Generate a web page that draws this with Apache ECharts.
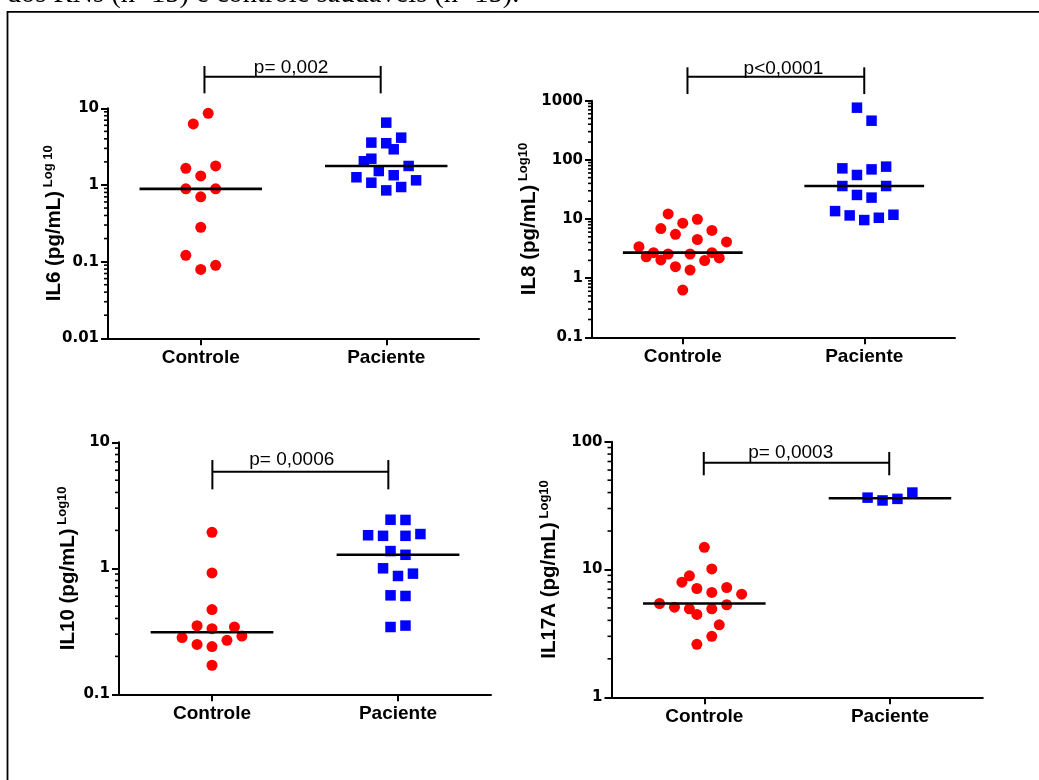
<!DOCTYPE html>
<html><head><meta charset="utf-8">
<script src="https://cdn.jsdelivr.net/npm/echarts@6/dist/echarts.min.js"></script>
<style>html,body{margin:0;padding:0;background:#fff}#c{width:1039px;height:780px}</style>
</head><body><div id="c"></div>
<script>
// ---------------- DATA ----------------
const groups = ['Controle', 'Paciente'];
const captionText = 'dos RNs (n=15) e controle saudáveis (n=15).';

// IL6
const il6Ticks = [0.01, 0.1, 1, 10];
const il6Controle = [8.6, 6.25, 1.65, 1.77, 1.31, 0.89, 0.89, 0.70, 0.28, 0.121, 0.079, 0.0896];
const il6ControleSlot = [1, -1, -2, 2, 0, -2, 2, 0, 0, -2, 0, 2];
const il6Paciente = [6.5, 4.14, 3.57, 3.5, 2.92, 2.2, 2.04, 1.77, 1.52, 1.26, 1.34, 1.15, 1.07, 0.94, 0.85];
const il6PacienteSlot = [0, 2, -2, 0, 1, -2, -3, 3, -1, -4, 1, 4, -2, 2, 0];
const il6P = 'p= 0,002';
const il6Bracket = [0.52, 1.47, 25.8];

// IL8
const il8Ticks = [0.1, 1, 10, 100, 1000];
const il8Controle = [12.2, 9.9, 8.5, 6.9, 6.4, 5.5, 4.5, 4.1, 3.4, 2.7, 2.56, 2.56, 2.7, 2.3, 2.2, 2.03, 1.98, 1.56, 1.37, 0.63];
const il8ControleSlot = [-2, 2, 0, -3, 4, -1, 2, 6, -6, -4, -2, 1, 4, -5, 5, -3, 3, -1, 1, 0];
const il8Paciente = [762, 459, 76.8, 71.8, 69, 55.5, 36.1, 36.1, 25.5, 23, 13.6, 11.5, 11.8, 10.5, 9.6];
const il8PacienteSlot = [-1, 1, 3, -3, 1, -1, -3, 3, -1, 1, -4, -2, 4, 2, 0];
const il8P = 'p<0,0001';
const il8Bracket = [0.526, 1.5, 2541];

// IL10
const il10Ticks = [0.1, 1, 10];
const il10Controle = [1.93, 0.918, 0.47, 0.35, 0.342, 0.332, 0.282, 0.29, 0.268, 0.249, 0.239, 0.17];
const il10ControleSlot = [0, 0, 0, -2, 3, 0, -4, 4, 2, -2, 0, 0];
const il10Paciente = [2.43, 2.42, 1.83, 1.81, 1.81, 1.87, 1.37, 1.28, 1.0, 0.907, 0.869, 0.61, 0.603, 0.342, 0.351];
const il10PacienteSlot = [-1, 1, -4, -2, 1, 3, -1, 1, -2, 2, 0, -1, 1, -1, 1];
const il10P = 'p= 0,0006';
const il10Bracket = [0.502, 1.448, 5.84];

// IL17A
const il17Ticks = [1, 10, 100];
const il17Controle = [14.9, 10.1, 8.92, 7.96, 7.1, 7.23, 6.61, 6.41, 5.42, 5.3, 5.07, 4.92, 4.92, 4.45, 3.69, 3.0, 2.6];
const il17ControleSlot = [0, 1, -2, -3, -1, 3, 1, 5, -6, 3, -4, -2, 1, -1, 2, 1, -1];
const il17Paciente = [36.5, 34.7, 35.7, 40];
const il17PacienteSlot = [-3, -1, 1, 3];
const il17P = 'p= 0,0003';
const il17Bracket = [0.497, 1.496, 68.5];

// ---------------- LAYOUT ----------------
const panels = [
  {title: 'IL6 (pg/mL)', sup: ' Log 10', ticks: il6Ticks, ctrl: il6Controle, ctrlSlot: il6ControleSlot, pac: il6Paciente, pacSlot: il6PacienteSlot, p: il6P, br: il6Bracket,
   grid: {left: 108, top: 108.3, width: 371, height: 230}, nameGap: 42, lblDx: -1.5, lblDy: 2.7, up: 10.7, down: 16.6},
  {title: 'IL8 (pg/mL)', sup: ' Log10', ticks: il8Ticks, ctrl: il8Controle, ctrlSlot: il8ControleSlot, pac: il8Paciente, pacSlot: il8PacienteSlot, p: il8P, br: il8Bracket,
   grid: {left: 592, top: 100.7, width: 363, height: 236.6}, nameGap: 51, lblDx: 7.6, lblDy: 1.7, up: 9.4, down: 17.3},
  {title: 'IL10 (pg/mL)', sup: ' Log10', ticks: il10Ticks, ctrl: il10Controle, ctrlSlot: il10ControleSlot, pac: il10Paciente, pacSlot: il10PacienteSlot, p: il10P, br: il10Bracket,
   grid: {left: 119, top: 442.3, width: 372, height: 252}, nameGap: 39, lblDx: -8.6, lblDy: 5, up: 11.7, down: 17.6},
  {title: 'IL17A (pg/mL)', sup: ' Log10', ticks: il17Ticks, ctrl: il17Controle, ctrlSlot: il17ControleSlot, pac: il17Paciente, pacSlot: il17PacienteSlot, p: il17P, br: il17Bracket,
   grid: {left: 611.5, top: 441.7, width: 371.3, height: 255.6}, nameGap: 50, lblDx: -5.8, lblDy: 3.7, up: 10.7, down: 12.6}
];

const JIT = 0.0402;       // horizontal slot width in axis units
const HALF_MED = 0.33;    // half length of median bar in axis units
const SANS = '"Liberation Sans", Arial, sans-serif';
const TICKFONT = '"DejaVu Sans", sans-serif';

function median(arr) {
  const s = arr.slice().sort((a, b) => a - b);
  const n = s.length;
  return n % 2 ? s[(n - 1) / 2] : (s[n / 2 - 1] + s[n / 2]) / 2;
}
function minorValues(ticks) {
  const out = [];
  for (let i = 0; i < ticks.length - 1; i++) {
    for (let m = 2; m <= 9; m++) out.push(+(ticks[i] * m).toPrecision(6));
  }
  return out;
}
function fmt(v) { return String(+v.toPrecision(4)); }

const grid = [], xAxis = [], yAxis = [], series = [];
panels.forEach((pn, i) => {
  grid.push(Object.assign({outerBoundsMode: 'none', containLabel: false}, pn.grid));
  // category axis (labels, line, ticks)
  xAxis.push({
    type: 'category', gridIndex: i, data: groups, boundaryGap: true, position: 'bottom',
    axisLine: {show: true, onZero: false, lineStyle: {color: '#000', width: 2}},
    axisTick: {show: true, alignWithLabel: true, length: 7, lineStyle: {color: '#000', width: 2}},
    axisLabel: {show: true, color: '#000', fontFamily: SANS, fontWeight: 'bold', fontSize: 19, margin: 10},
    splitLine: {show: false}
  });
  // hidden value axis for point positions
  xAxis.push({type: 'value', gridIndex: i, min: 0, max: 2, show: false, position: 'top', splitLine: {show: false}});
  yAxis.push({
    type: 'log', logBase: 10, gridIndex: i, min: pn.ticks[0], max: pn.ticks[pn.ticks.length - 1],
    axisLine: {show: true, onZero: false, lineStyle: {color: '#000', width: 2}},
    axisTick: {show: true, length: 7, lineStyle: {color: '#000', width: 2}},
    axisLabel: {show: true, color: '#000', fontFamily: TICKFONT, fontWeight: 'bold', fontSize: 15, margin: 9, formatter: fmt},
    splitLine: {show: false},
    name: '{a|' + pn.title + '}{b|' + pn.sup + '}',
    nameLocation: 'middle', nameRotate: 90, nameGap: pn.nameGap, nameMoveOverlap: false,
    nameTextStyle: {
      rich: {
        a: {fontFamily: SANS, fontWeight: 'bold', fontSize: 20.5, lineHeight: 24, color: '#000'},
        b: {fontFamily: SANS, fontWeight: 'bold', fontSize: 13, lineHeight: 12, verticalAlign: 'top', color: '#000'}
      }
    }
  });
  const xi = 2 * i + 1;
  series.push({
    type: 'scatter', xAxisIndex: xi, yAxisIndex: i, symbol: 'circle', symbolSize: 11,
    itemStyle: {color: '#ff0000', opacity: 1}, z: 3,
    data: pn.ctrl.map((v, k) => [0.5 + pn.ctrlSlot[k] * JIT, v])
  });
  series.push({
    type: 'scatter', xAxisIndex: xi, yAxisIndex: i, symbol: 'rect', symbolSize: 10.5,
    itemStyle: {color: '#0000ff', opacity: 1}, z: 3,
    data: pn.pac.map((v, k) => [1.5 + pn.pacSlot[k] * JIT, v])
  });
  // median bars
  series.push({
    type: 'custom', xAxisIndex: xi, yAxisIndex: i, z: 5, clip: false,
    data: [[0.5, median(pn.ctrl)], [1.5, median(pn.pac)]],
    renderItem(params, api) {
      const a = api.coord([api.value(0) - HALF_MED, api.value(1)]);
      const b = api.coord([api.value(0) + HALF_MED, api.value(1)]);
      return {type: 'line', shape: {x1: a[0], y1: a[1], x2: b[0], y2: b[1]}, style: {stroke: '#000', lineWidth: 2.6}};
    }
  });
  // significance bracket
  series.push({
    type: 'custom', xAxisIndex: xi, yAxisIndex: i, z: 5, clip: false,
    data: [pn.br],
    renderItem(params, api) {
      const a = api.coord([api.value(0), api.value(2)]);
      const b = api.coord([api.value(1), api.value(2)]);
      const y = a[1];
      const st = {stroke: '#000', lineWidth: 2};
      return {type: 'group', children: [
        {type: 'line', shape: {x1: a[0], y1: y, x2: b[0], y2: y}, style: st},
        {type: 'line', shape: {x1: a[0], y1: y - pn.up, x2: a[0], y2: y + pn.down}, style: st},
        {type: 'line', shape: {x1: b[0], y1: y - pn.up, x2: b[0], y2: y + pn.down}, style: st},
        {type: 'text', style: {text: pn.p, x: (a[0] + b[0]) / 2 + pn.lblDx, y: y - pn.lblDy - 6.6,
          align: 'center', verticalAlign: 'middle', fontFamily: SANS, fontSize: 19, fill: '#000'}}
      ]};
    }
  });
  // log minor ticks
  series.push({
    type: 'custom', xAxisIndex: xi, yAxisIndex: i, z: 4, clip: false,
    data: minorValues(pn.ticks).map(v => [0, v]),
    renderItem(params, api) {
      const p = api.coord([0, api.value(1)]);
      return {type: 'line', shape: {x1: p[0] - 4, y1: p[1], x2: p[0], y2: p[1]}, style: {stroke: '#000', lineWidth: 1.6}};
    }
  });
});

const chart = echarts.init(document.getElementById('c'), null, {renderer: 'canvas'});
chart.setOption({
  animation: false,
  backgroundColor: '#fff',
  grid, xAxis, yAxis, series,
  graphic: [
    {type: 'text', x: 6.7, y: -5.5, silent: true,
     style: {text: captionText, fontFamily: '"Liberation Serif", "Times New Roman", serif', fontSize: 28.5, fill: '#000', verticalAlign: 'middle'}},
    {type: 'polyline', silent: true, shape: {points: [[7.5, 781], [7.5, 11.8], [1041, 11.8]]},
     style: {stroke: '#000', lineWidth: 1.8, fill: null}}
  ]
});
</script>
</body></html>
